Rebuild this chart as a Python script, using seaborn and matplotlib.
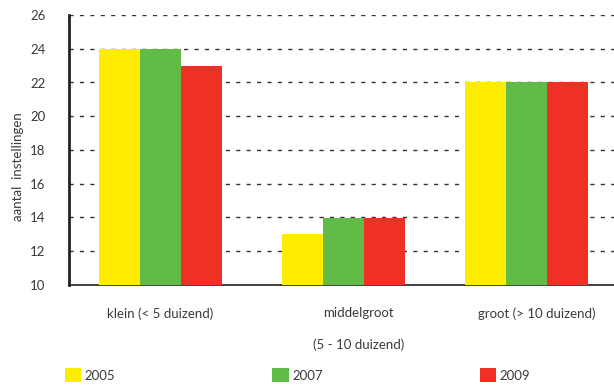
import pandas as pd
import matplotlib
matplotlib.use("Agg")
import matplotlib.pyplot as plt
import matplotlib.transforms as mtransforms
from matplotlib.patches import Patch
import seaborn as sns

# Data
categorieen = ["klein (< 5 duizend)", "middelgroot\n\n(5 - 10 duizend)", "groot (> 10 duizend)"]
jaren = ["2005", "2007", "2009"]
waarden_2005 = [24, 13, 22]
waarden_2007 = [24, 14, 22]
waarden_2009 = [23, 14, 22]
kleuren = ["#FFEC00", "#62BB46", "#EE3124"]

dados = pd.DataFrame({
    "categorie": categorieen * 3,
    "jaar": [jaren[0]] * 3 + [jaren[1]] * 3 + [jaren[2]] * 3,
    "aantal": waarden_2005 + waarden_2007 + waarden_2009,
})

sns.set_style("white")
plt.rcParams["font.family"] = ["Lato", "DejaVu Sans"]
tekstkleur = "#3a3a3a"

fig = plt.figure(figsize=(6.14, 3.86), dpi=100)
ax = fig.add_axes([69 / 614, 101 / 386, 548 / 614, 270 / 386])

sns.barplot(data=dados, x="categorie", y="aantal", hue="jaar", palette=kleuren,
            width=0.67, saturation=1, ax=ax, legend=False, zorder=3)

# balken beginnen bij 10
for bar in ax.patches:
    h = bar.get_height()
    bar.set_y(10)
    bar.set_height(h - 10)
    bar.set_linewidth(0)

ax.set_ylim(10, 26)
ax.set_xlim(-0.5, 2.495)
ax.set_yticks(range(10, 27, 2))
ax.yaxis.grid(True, linestyle=(0, (3, 4.5)), color="#333333", linewidth=1, zorder=1)
ax.xaxis.grid(False)
ax.set_axisbelow(True)

for lado in ["top", "right"]:
    ax.spines[lado].set_visible(False)
ax.spines["left"].set_linewidth(2)
ax.spines["left"].set_color("#222222")
ax.spines["bottom"].set_linewidth(1.2)
ax.spines["bottom"].set_color("#222222")

ax.tick_params(axis="y", length=5, width=1, color="#222222", labelsize=9.5,
               labelcolor=tekstkleur, pad=12)
ax.set_xticks([0, 1, 2])
ax.set_xticklabels([])
ax.tick_params(axis="x", which="major", length=0)
ax.set_xticks([-0.5, 0.5, 1.5], minor=True)
ax.tick_params(axis="x", which="minor", length=5, width=1, color="#222222")

# categorie-labels iets naar rechts, zoals in het origineel
verschuiving = [0, 0.082, 0.055]
trans = mtransforms.blended_transform_factory(ax.transData, ax.transAxes)
for i, (cat, dx) in enumerate(zip(categorieen, verschuiving)):
    ax.text(i + dx, -0.082, cat, transform=trans, ha="center", va="top",
            fontsize=9.5, color=tekstkleur, linespacing=1.38, multialignment="center")

ax.set_xlabel("")
ax.set_ylabel("aantal  instellingen", fontsize=9.5, color=tekstkleur)
ax.yaxis.set_label_coords(-0.083, 0.44)

# legenda onderaan
handles = [Patch(facecolor=c, edgecolor="none") for c in kleuren]
fig.legend(handles, jaren, ncol=3, loc="lower left", bbox_to_anchor=(53 / 614, -8 / 386),
           frameon=False, fontsize=9.5, handlelength=1.25, handleheight=1.25,
           handletextpad=0.25, columnspacing=11.9, labelcolor=tekstkleur)

fig.savefig("out.png", dpi=100)
